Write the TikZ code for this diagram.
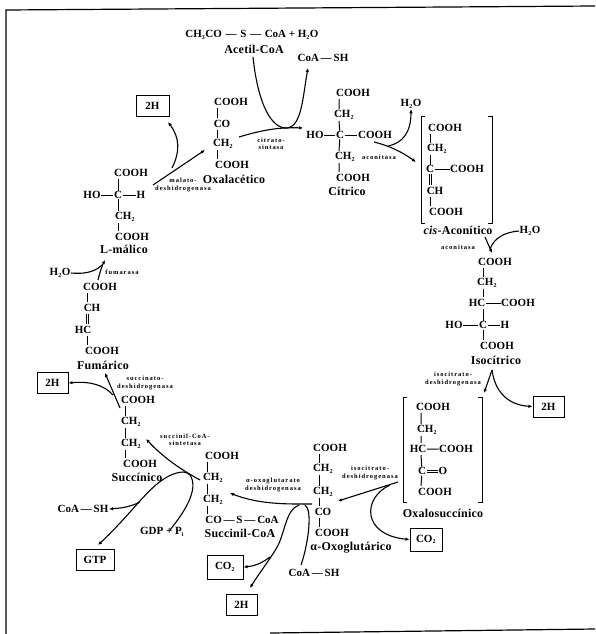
\documentclass[tikz,border=0pt]{standalone}
\usepackage{fontspec}
\setmainfont{Liberation Serif}
\usetikzlibrary{arrows.meta}
\newcommand{\sbs}[1]{\textsubscript{\fontsize{6}{6}\selectfont #1}}
\tikzset{
  x=1pt,y=-1pt,
  chem/.style={inner sep=0.5pt,font=\fontsize{11}{12}\bfseries\selectfont},
  name label/.style={inner sep=0.5pt,font=\fontsize{12}{13}\bfseries\addfontfeature{LetterSpace=2}\selectfont},
  enz/.style={inner sep=0pt,align=center,font=\fontsize{6.5}{7.2}\bfseries\addfontfeature{LetterSpace=15}\selectfont},
  bx/.style={draw,line width=1pt,inner sep=0pt,minimum height=21pt,font=\fontsize{11}{12}\bfseries\selectfont},
  bond/.style={line width=1pt,shorten <=0.2pt,shorten >=0.2pt},
  rxn/.style={line width=1.1pt,-{Latex[length=4pt,width=3.5pt]}},
  rxnp/.style={line width=1.1pt},
  brk/.style={line width=1pt},
  frame/.style={line width=1.2pt}
}
\begin{document}
\begin{tikzpicture}
\useasboundingbox (0,0) rectangle (595,634);
\coordinate (fa) at (6,634);\coordinate (fb) at (6,10);\coordinate (fc) at (595,6);
\coordinate (fd) at (270,633);\coordinate (fe) at (595,629);
\draw[frame] (fa) -- (fb) -- (fc);
\draw[frame] (fd) -- (fe);
% top
\node[chem] (acetyl) at (252,35) {CH\sbs{3}CO\,\,—\,\,S\,\,—\,\,CoA + H\sbs{2}O};
\node[name label] (acetylname) at (254,49) {Acetil-CoA};
\node[chem] (coatop) at (323,58) {CoA\,—\,SH};
\node[bx,minimum width=33pt] (h2a) at (152.5,105.5) {2H};
% oxalacetic
\node[chem] (oa1) at (231,102) {COOH};
\node[chem] (oa2) at (222,124) {CO};
\node[chem] (oa3) at (223,144) {CH\sbs{2}};
\node[chem] (oa4) at (232,165) {COOH};
\node[name label] (oaname) at (234,179) {Oxalacético};
\coordinate (oab1) at (217,108);\coordinate (oab2) at (217,118);
\coordinate (oab3) at (217,130);\coordinate (oab4) at (217,138);
\coordinate (oab5) at (217,150);\coordinate (oab6) at (217,159);
\draw[bond] (oab1)--(oab2) (oab3)--(oab4) (oab5)--(oab6);
% citric
\node[chem] (ci1) at (353,93) {COOH};
\node[chem] (ci2) at (344,115) {CH\sbs{2}};
\node[chem] (ci3) at (340,135) {C};
\node[chem] (cihx) at (315,135) {HO};
\node[chem] (ci4) at (375,135) {COOH};
\node[chem] (ci5) at (345,157) {CH\sbs{2}};
\node[chem] (ci6) at (353,178) {COOH};
\node[name label] (ciname) at (347,191) {Cítrico};
\draw[bond] (339,99)--(339,109) (339,121)--(ci3) (ci3)--(339,151) (339,163)--(339,172);
\draw[bond] (cihx)--(ci3) (ci3)--(ci4);
\node[chem] (w1) at (411,104) {H\sbs{2}O};
% cis-aconitic
\coordinate (lb1) at (425,116);\coordinate (lb2) at (421,116);\coordinate (lb3) at (421,223);\coordinate (lb4) at (425,223);
\coordinate (rb1) at (488,116);\coordinate (rb2) at (492,116);\coordinate (rb3) at (492,223);\coordinate (rb4) at (488,223);
\draw[brk] (lb1)--(lb2)--(lb3)--(lb4);
\draw[brk] (rb1)--(rb2)--(rb3)--(rb4);
\node[chem] (ca1) at (445,128) {COOH};
\node[chem] (ca2) at (437,149) {CH\sbs{2}};
\node[chem] (ca3) at (430,169) {C};
\node[chem] (ca4) at (467,169) {COOH};
\node[chem] (ca5) at (435,191) {CH};
\node[chem] (ca6) at (446,212) {COOH};
\node[name label] (caname) at (458,230) {\textit{cis}-Aconítico};
\draw[bond] (430,134)--(430,143) (430,155)--(ca3) (ca3)--(ca4) (430,197)--(430,206);
\draw[bond,double,double distance=1pt] (ca3)--(430,185);
\node[chem] (w2) at (530,231) {H\sbs{2}O};
% isocitric
\node[chem] (ic1) at (495,262) {COOH};
\node[chem] (ic2) at (487,283) {CH\sbs{2}};
\node[chem] (ic3) at (477,303) {HC};
\node[chem] (ic4) at (518,303) {COOH};
\node[chem] (ic5) at (454,325) {HO};
\node[chem] (ic6) at (483,325) {C};
\node[chem] (ic7) at (505,325) {H};
\node[chem] (ic8) at (497,346) {COOH};
\node[name label] (icname) at (496,360) {Isocítrico};
\draw[bond] (483,268)--(483,277) (483,289)--(483,297) (ic3)--(ic4) (483,309)--(ic6) (ic5)--(ic6) (ic6)--(ic7) (ic6)--(483,340);
\node[bx,minimum width=31pt] (h2b) at (548.5,406.5) {2H};
% oxalosuccinic
\coordinate (lc1) at (407,397);\coordinate (lc2) at (403,397);\coordinate (lc3) at (403,502);\coordinate (lc4) at (407,502);
\coordinate (rc1) at (478,397);\coordinate (rc2) at (482,397);\coordinate (rc3) at (482,502);\coordinate (rc4) at (478,502);
\draw[brk] (lc1)--(lc2)--(lc3)--(lc4);
\draw[brk] (rc1)--(rc2)--(rc3)--(rc4);
\node[chem] (os1) at (433,407) {COOH};
\node[chem] (os2) at (427,430) {CH\sbs{2}};
\node[chem] (os3) at (418,449) {HC};
\node[chem] (os4) at (456,449) {COOH};
\node[chem] (os5) at (422,471) {C};
\node[chem] (os6) at (443,471) {O};
\node[chem] (os7) at (435,492) {COOH};
\node[name label] (osname) at (443,513) {Oxalosuccínico};
\draw[bond] (421,413)--(421,424) (421,436)--(421,443) (os3)--(os4) (421,455)--(os5) (os5)--(421,486);
\draw[bond,double,double distance=1pt] (os5)--(os6);
\node[bx,minimum width=32pt,minimum height=23pt] (co2a) at (426,539.5) {CO\sbs{2}};
% alpha-oxoglutaric
\node[chem] (ao1) at (330,448) {COOH};
\node[chem] (ao2) at (323,469) {CH\sbs{2}};
\node[chem] (ao3) at (323,492) {CH\sbs{2}};
\node[chem] (ao4) at (323,512) {CO};
\node[chem] (ao5) at (332,533) {COOH};
\node[name label] (aoname) at (351,548) {α-Oxoglutárico};
\node[chem] (coab) at (314,573) {CoA\,—\,SH};
\draw[bond] (319,454)--(319,463) (319,475)--(319,486) (319,498)--(319,506) (319,518)--(319,527);
% succinyl-CoA
\node[chem] (sc1) at (222,456) {COOH};
\node[chem] (sc2) at (213,478) {CH\sbs{2}};
\node[chem] (sc3) at (213,500) {CH\sbs{2}};
\node[chem] (sc4) at (242,520) {CO\,—\,S\,—\,CoA};
\node[name label] (scname) at (240,533) {Succinil-CoA};
\draw[bond] (207,462)--(207,472) (207,484)--(207,494) (207,506)--(207,514);
\node[bx,minimum width=36pt,minimum height=24pt] (co2b) at (225,567) {CO\sbs{2}};
\node[bx,minimum width=31pt] (h2c) at (241.5,604.5) {2H};
% succinic
\node[chem] (su1) at (138,400) {COOH};
\node[chem] (su2) at (131,422) {CH\sbs{2}};
\node[chem] (su3) at (131,444) {CH\sbs{2}};
\node[chem] (su4) at (140,464) {COOH};
\node[name label] (suname) at (137,477) {Succínico};
\draw[bond] (125,406)--(125,416) (125,428)--(125,438) (125,450)--(125,458);
\node[chem] (coac) at (83,509) {CoA\,—\,SH};
\node[chem] (gdp) at (162,532) {GDP + P\sbs{i}};
\node[bx,minimum width=38pt] (gtp) at (95,560) {GTP};
\node[bx,minimum width=31pt] (h2d) at (52.5,383) {2H};
% fumaric
\node[chem] (fu1) at (100,287) {COOH};
\node[chem] (fu2) at (92,308) {CH};
\node[chem] (fu3) at (83,330) {HC};
\node[chem] (fu4) at (102,351) {COOH};
\node[name label] (funame) at (103,365) {Fumárico};
\draw[bond] (87,293)--(87,302) (87,336)--(87,345);
\draw[bond,double,double distance=1pt] (87,314)--(87,324);
\node[chem] (w3) at (60,273) {H\sbs{2}O};
% malic
\node[chem] (ma1) at (131,173) {COOH};
\node[chem] (ma2) at (92,195) {HO};
\node[chem] (ma3) at (118,195) {C};
\node[chem] (ma4) at (141,195) {H};
\node[chem] (ma5) at (125,217) {CH\sbs{2}};
\node[chem] (ma6) at (132,237) {COOH};
\node[name label] (maname) at (124,249) {L-málico};
\draw[bond] (118,179)--(ma3) (ma2)--(ma3) (ma3)--(ma4) (ma3)--(118,211) (118,223)--(118,231);
% enzymes
\node[enz] at (271,144) {citrato-\\sintasa};
\node[enz] at (379,157) {aconitasa};
\node[enz] at (183,185) {malato-\\deshidrogenasa};
\node[enz] at (458,247) {aconitasa};
\node[enz] at (453,379) {isocitrato-\\deshidrogenasa};
\node[enz] at (370,473) {isocitrato-\\deshidrogenasa};
\node[enz] at (273,485) {α-oxoglutarato\\deshidrogenasa};
\node[enz] at (185,440) {succinil-CoA-\\sintetasa};
\node[enz] at (145,383) {succinato-\\deshidrogenasa};
\node[enz] at (122,272) {fumarasa};
% reactions
\coordinate (r1a) at (239,137);\coordinate (r1b) at (303,128);
\draw[rxn] (r1a) .. controls (262,130) and (280,127) .. (r1b);
\coordinate (r2a) at (253,57);\coordinate (r2b) at (308,68);
\draw[rxn] (r2a) .. controls (258,105) and (272,130) .. (288,128) .. controls (302,125) and (303,95) .. (r2b);
\coordinate (r3a) at (374,142);\coordinate (r3b) at (416,162);
\draw[rxn] (r3a) .. controls (390,146) and (402,152) .. (r3b);
\coordinate (r4a) at (388,146);
\draw[rxn] (r4a) .. controls (403,143) and (411,132) .. (w1.south);
\coordinate (r5a) at (153,185);\coordinate (r5b) at (205,150);
\draw[rxn] (r5a) -- (r5b);
\coordinate (r6a) at (172,168);\coordinate (r6b) at (168,122);
\draw[rxn] (r6a) .. controls (180,152) and (180,138) .. (r6b);
\coordinate (r7a) at (98,280);\coordinate (r7b) at (105,260);
\draw[rxn] (r7a) .. controls (100,272) and (102,266) .. (r7b);
\draw[rxnp] (w3.east) .. controls (82,274) and (94,273) .. (102,265);
\coordinate (r8a) at (120,408);\coordinate (r8b) at (105,373);
\draw[rxn] (r8a) -- (r8b);
\coordinate (r9a) at (113,395);
\draw[rxn] (r9a) .. controls (104,385) and (90,381) .. (h2d.east);
\coordinate (r10a) at (485,237);\coordinate (r10b) at (492,253);
\draw[rxn] (r10a) -- (r10b);
\draw[rxnp] (w2.west) .. controls (505,232) and (494,238) .. (490,249);
\coordinate (r11a) at (492,370);\coordinate (r11b) at (484,393);
\draw[rxn] (r11a) -- (r11b);
\draw[rxn] (r11a) .. controls (495,392) and (508,405) .. (h2b.west);
\coordinate (r12a) at (398,482);\coordinate (r12b) at (338,501);
\draw[rxn] (r12a) -- (r12b);
\coordinate (r13a) at (390,485);
\draw[rxn] (r13a) .. controls (362,498) and (362,535) .. (co2a.west);
\coordinate (r14a) at (312,504);\coordinate (r14b) at (230,493);
\draw[rxn] (r14a) -- (298,504) .. controls (270,504) and (250,501) .. (r14b);
\coordinate (r15a) at (299,505);\coordinate (r15b) at (250,588);
\draw[rxn] (r15a) .. controls (285,510) and (285,535) .. (276,549) .. controls (268,562) and (258,575) .. (r15b);
\coordinate (r16a) at (270,557);
\draw[rxn] (r16a) .. controls (262,563) and (255,566) .. (co2b.east);
\coordinate (r17a) at (301,565);\coordinate (r17b) at (305,505);
\draw[rxnp] (r17a) .. controls (308,545) and (313,510) .. (r17b);
\coordinate (r18a) at (200,480);\coordinate (r18b) at (146,439);
\draw[rxn] (r18a) .. controls (178,468) and (162,456) .. (r18b);
\coordinate (r19a) at (170,530);\coordinate (r19b) at (183,472);
\draw[rxnp] (r19a) .. controls (182,515) and (200,490) .. (190,475) .. controls (188,473) and (186,472) .. (r19b);
\coordinate (r20a) at (98,545);
\draw[rxn] (r19b) .. controls (165,473) and (150,490) .. (138,503) .. controls (125,518) and (112,532) .. (r20a);
\coordinate (r21a) at (140,502);
\draw[rxn] (r21a) .. controls (132,506) and (124,508) .. (coac.east);
\end{tikzpicture}
\end{document}
